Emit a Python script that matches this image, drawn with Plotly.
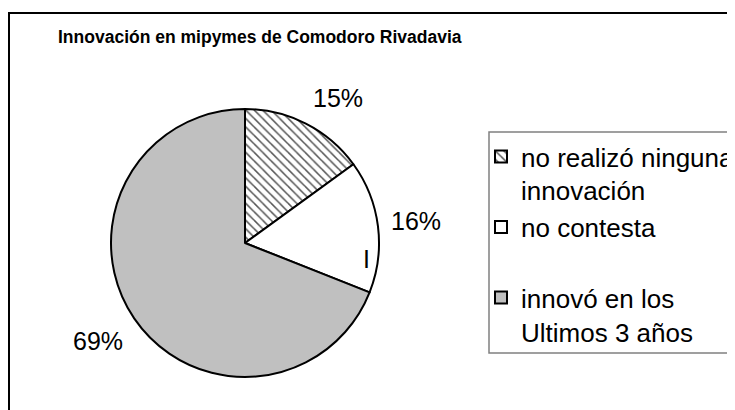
import math
import plotly.graph_objects as go

W, H = 735, 410
OFF = 8  # page body margin

title_text = "Innovación en mipymes de Comodoro Rivadavia"
categories = ["no realizó ninguna<br>innovación", "no contesta<br> ", "innovó en los<br>Ultimos 3 años"]
values = [15, 16, 69]
colors = ["white", "white", "#c0c0c0"]
patterns = ["\\", "", ""]
stray_mark = "I"

def px(x):
    return (x - OFF) / W

def py(y):
    return 1 - (y - OFF) / H

cx, cy, r = 245, 243, 134
label_r = 145

fig = go.Figure(go.Pie(
    labels=categories,
    values=values,
    sort=False,
    direction="clockwise",
    rotation=0,
    textinfo="none",
    marker=dict(colors=colors,
                line=dict(color="black", width=2),
                pattern=dict(shape=patterns, fgcolor="#555555", bgcolor="white", size=6, solidity=0.25)),
    domain=dict(x=[px(cx - r), px(cx + r)], y=[py(cy + r), py(cy - r)]),
    hoverinfo="label+percent",
))

annotations = [
    dict(text="<b>" + title_text + "</b>", x=px(260), y=py(37), xref="paper", yref="paper",
         showarrow=False, xanchor="center", yanchor="middle",
         font=dict(family="Liberation Sans, Arial", size=17.5, color="black")),
    dict(text=stray_mark, x=px(366), y=py(259), xref="paper", yref="paper",
         showarrow=False, xanchor="center", yanchor="middle",
         font=dict(family="Liberation Sans, Arial", size=25, color="black")),
]

total = sum(values)
cum = 0
for v in values:
    theta = 2 * math.pi * (cum + v / 2) / total
    cum += v
    s, c = math.sin(theta), math.cos(theta)
    xa = "left" if s > 0.25 else ("right" if s < -0.25 else "center")
    ya = "bottom" if c > 0.25 else ("top" if c < -0.25 else "middle")
    annotations.append(dict(
        text=f"{round(100 * v / total)}%",
        x=px(cx + label_r * s), y=py(cy - label_r * c - (4 if ya == "middle" else 0)),
        xref="paper", yref="paper", showarrow=False,
        xanchor=xa, yanchor=ya,
        font=dict(family="Liberation Sans, Arial", size=25, color="black")))

fig.update_layout(
    width=W, height=H,
    margin=dict(l=0, r=0, t=0, b=0),
    paper_bgcolor="white",
    plot_bgcolor="white",
    font=dict(family="Liberation Sans, Arial", color="black"),
    showlegend=True,
    legend=dict(
        x=px(481), y=py(133), xanchor="left", yanchor="top",
        font=dict(family="Liberation Sans, Arial", size=26, color="black"),
        bgcolor="rgba(0,0,0,0)", borderwidth=0,
        valign="top", traceorder="normal",
    ),
    shapes=[
        dict(type="rect", xref="paper", yref="paper",
             x0=px(9), x1=px(780), y0=py(460), y1=py(13),
             line=dict(color="black", width=2), fillcolor="rgba(0,0,0,0)", layer="below"),
        dict(type="rect", xref="paper", yref="paper",
             x0=px(489), x1=px(780), y0=py(353), y1=py(132),
             line=dict(color="#808080", width=1.5), fillcolor="rgba(0,0,0,0)", layer="below"),
    ],
    annotations=annotations,
)

fig.write_html("out.html")
